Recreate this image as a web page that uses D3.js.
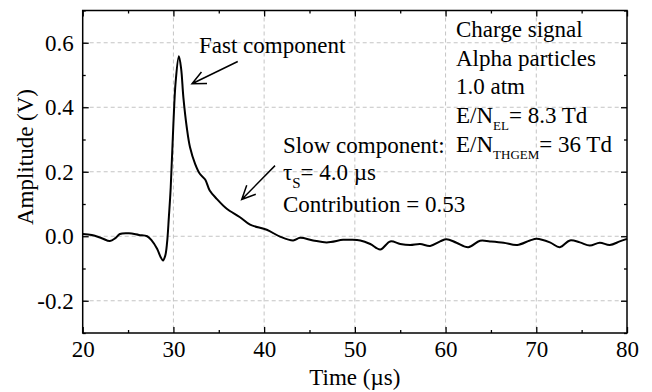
<!DOCTYPE html>
<html>
<head>
<meta charset="utf-8">
<script src="https://cdn.jsdelivr.net/npm/d3@7"></script>
<style>
  body { margin: 0; background: #fff; }
  svg text { font-family: "Liberation Serif", "Times New Roman", Times, "DejaVu Serif", serif; fill: #000; }
</style>
</head>
<body>
<script>
// signal trace
var time = [20, 21, 22.1, 23.0, 23.6, 24.1, 25.1, 26.2, 27.1, 27.6, 28.2, 28.6, 28.85, 29.1, 29.3, 29.5, 29.7,
  30.0, 30.25, 30.6, 30.85, 31.1, 31.47, 31.83, 32.4, 32.93, 33.5, 34.0, 34.77, 35.88, 37.34, 38.45,
  40.29, 41.75, 43.2, 43.96, 45.4, 46.9, 48.7, 49.5, 50.6, 51.7, 52.8, 53.9, 55.0, 56.1, 57.2, 58.3,
  59.4, 60.1, 61.2, 62.5, 63.8, 64.9, 66.4, 67.9, 69.3, 70.05, 71.5, 72.6, 73.7, 74.8, 75.9, 77.0,
  78.1, 79.2, 80];
var amplitude = [0.007, 0.004, -0.006, -0.015, -0.006, 0.007, 0.009, 0.004, 0.0, -0.013, -0.039, -0.065, -0.075, -0.06, -0.02, 0.06, 0.15,
  0.35, 0.48, 0.558, 0.52, 0.43, 0.338, 0.276, 0.224, 0.193, 0.176, 0.142, 0.116, 0.085, 0.059, 0.036,
  0.020, -0.001, -0.013, -0.005, -0.013, -0.019, -0.011, -0.011, -0.013, -0.024, -0.041, -0.016, -0.024, -0.027, -0.024, -0.030,
  -0.016, -0.009, -0.020, -0.034, -0.014, -0.016, -0.020, -0.027, -0.013, -0.008, -0.019, -0.034, -0.013, -0.019, -0.029, -0.020,
  -0.027, -0.016, -0.008];

// ticks
var xMajor = [20, 30, 40, 50, 60, 70, 80];
var xMinor = [25, 35, 45, 55, 65, 75];
var yMajor = [-0.2, 0.0, 0.2, 0.4, 0.6];
var yMajorLabels = ["-0.2", "0.0", "0.2", "0.4", "0.6"];
var yMinor = [-0.3, -0.1, 0.1, 0.3, 0.5, 0.7];
var xGrid = [30, 40, 50, 60, 70];

// annotation text
var infoLines = ["Charge signal", "Alpha particles", "1.0 atm"];

function drawChart() {
  var w = 652, h = 392;
  var left = 82.7, right = 627, top = 10.5, bottom = 333;
  var fs = 23;
  var serif = "'Liberation Serif', 'Times New Roman', Times, 'DejaVu Serif', serif";

  var x = d3.scaleLinear().domain([20, 80]).range([left, right]);
  var y = d3.scaleLinear().domain([-0.3, 0.7]).range([bottom, top]);

  var svg = d3.select("body").append("svg")
    .attr("width", w)
    .attr("height", h)
    .style("font-family", serif);

  svg.append("rect").attr("width", w).attr("height", h).attr("fill", "#fff");

  // dashed grid
  svg.selectAll(".gx").data(xGrid).enter().append("line")
    .attr("x1", d => x(d)).attr("x2", d => x(d))
    .attr("y1", top).attr("y2", bottom)
    .attr("stroke", "#c4c4c4").attr("stroke-width", 1)
    .attr("stroke-dasharray", "4,3");
  svg.selectAll(".gy").data(yMajor).enter().append("line")
    .attr("x1", left).attr("x2", right)
    .attr("y1", d => y(d)).attr("y2", d => y(d))
    .attr("stroke", "#c4c4c4").attr("stroke-width", 1)
    .attr("stroke-dasharray", "4,3");

  // axes, ticks pointing inward on all four sides
  function tickAxis(axis, vals, size, fmt, pad) {
    return axis.tickValues(vals).tickSize(size).tickPadding(pad).tickFormat(fmt);
  }
  var none = () => "";

  var gb = svg.append("g").attr("transform", "translate(0," + bottom + ")");
  gb.call(tickAxis(d3.axisBottom(x), xMajor, -6, d => d, 8));
  gb.append("g").call(tickAxis(d3.axisBottom(x), xMinor, -3, none, 0));

  var gt = svg.append("g").attr("transform", "translate(0," + top + ")");
  gt.call(tickAxis(d3.axisTop(x), xMajor, -6, none, 0));
  gt.append("g").call(tickAxis(d3.axisTop(x), xMinor, -3, none, 0));

  var gl = svg.append("g").attr("transform", "translate(" + left + ",0)");
  gl.call(tickAxis(d3.axisLeft(y), yMajor, -6, (d, i) => yMajorLabels[i], 9));
  gl.append("g").call(tickAxis(d3.axisLeft(y), yMinor, -3, none, 0));

  var gr = svg.append("g").attr("transform", "translate(" + right + ",0)");
  gr.call(tickAxis(d3.axisRight(y), yMajor, -6, none, 0));
  gr.append("g").call(tickAxis(d3.axisRight(y), yMinor, -3, none, 0));

  svg.selectAll("g").attr("font-family", null);
  svg.selectAll(".domain").remove();
  svg.selectAll(".tick line").attr("stroke", "#000").attr("stroke-width", 1.3);
  svg.selectAll(".tick text")
    .attr("font-size", fs + "px")
    .attr("fill", "#000");

  // frame
  svg.append("rect")
    .attr("x", left).attr("y", top)
    .attr("width", right - left).attr("height", bottom - top)
    .attr("fill", "none").attr("stroke", "#000").attr("stroke-width", 1.5);

  // signal
  var pts = time.map((t, i) => [t, amplitude[i]]);
  var line = d3.line()
    .x(d => x(d[0]))
    .y(d => y(d[1]))
    .curve(d3.curveCatmullRom.alpha(0.5));
  svg.append("path")
    .datum(pts)
    .attr("d", line)
    .attr("fill", "none")
    .attr("stroke", "#000")
    .attr("stroke-width", 2)
    .attr("stroke-linejoin", "round");

  // axis titles
  svg.append("text")
    .attr("text-anchor", "middle")
    .attr("transform", "translate(" + ((left + right) / 2) + ",385)")
    .attr("font-size", fs + "px")
    .text("Time (\u00b5s)");
  svg.append("text")
    .attr("text-anchor", "middle")
    .attr("transform", "translate(33,157) rotate(-90)")
    .attr("font-size", fs + "px")
    .text("Amplitude (V)");

  // arrows: [tailT, tailV, tipT, tipV]
  var arrows = [[37.09, 0.542, 32.05, 0.473], [41.2, 0.219, 37.53, 0.114]];
  arrows.forEach(a => {
    var x1 = x(a[0]), y1 = y(a[1]), x2 = x(a[2]), y2 = y(a[3]);
    var ang = Math.atan2(y1 - y2, x1 - x2);
    var len = 15, spread = 25 * Math.PI / 180;
    var p = d3.path();
    p.moveTo(x1, y1); p.lineTo(x2, y2);
    p.moveTo(x2 + len * Math.cos(ang - spread), y2 + len * Math.sin(ang - spread));
    p.lineTo(x2, y2);
    p.lineTo(x2 + len * Math.cos(ang + spread), y2 + len * Math.sin(ang + spread));
    svg.append("path").attr("d", p.toString())
      .attr("fill", "none").attr("stroke", "#000").attr("stroke-width", 1.5);
  });

  // annotations
  svg.append("text").attr("x", 199).attr("y", 53).attr("font-size", fs + "px").text("Fast component");
  svg.append("text").attr("x", 283).attr("y", 153).attr("font-size", fs + "px").text("Slow component:");
  var tau = svg.append("text").attr("x", 283).attr("y", 180).attr("font-size", fs + "px");
  tau.append("tspan").text("\u03c4");
  tau.append("tspan").attr("dy", 8).attr("font-size", "15px").text("S");
  tau.append("tspan").attr("dy", -8).text("= 4.0 \u00b5s");
  svg.append("text").attr("x", 283).attr("y", 212).attr("font-size", fs + "px").text("Contribution = 0.53");

  infoLines.forEach((s, i) => {
    svg.append("text").attr("x", 456).attr("y", 37 + i * 28.7).attr("font-size", fs + "px").text(s);
  });
  var en1 = svg.append("text").attr("x", 456).attr("y", 123).attr("font-size", fs + "px");
  en1.append("tspan").text("E/N");
  en1.append("tspan").attr("dy", 7).attr("font-size", "13px").text("EL");
  en1.append("tspan").attr("dy", -7).text("= 8.3 Td");
  var en2 = svg.append("text").attr("x", 456).attr("y", 152).attr("font-size", fs + "px");
  en2.append("tspan").text("E/N");
  en2.append("tspan").attr("dy", 7).attr("font-size", "13px").text("THGEM");
  en2.append("tspan").attr("dy", -7).text("= 36 Td");
}

window.onload = function() {
  drawChart();
};
</script>
</body>
</html>
